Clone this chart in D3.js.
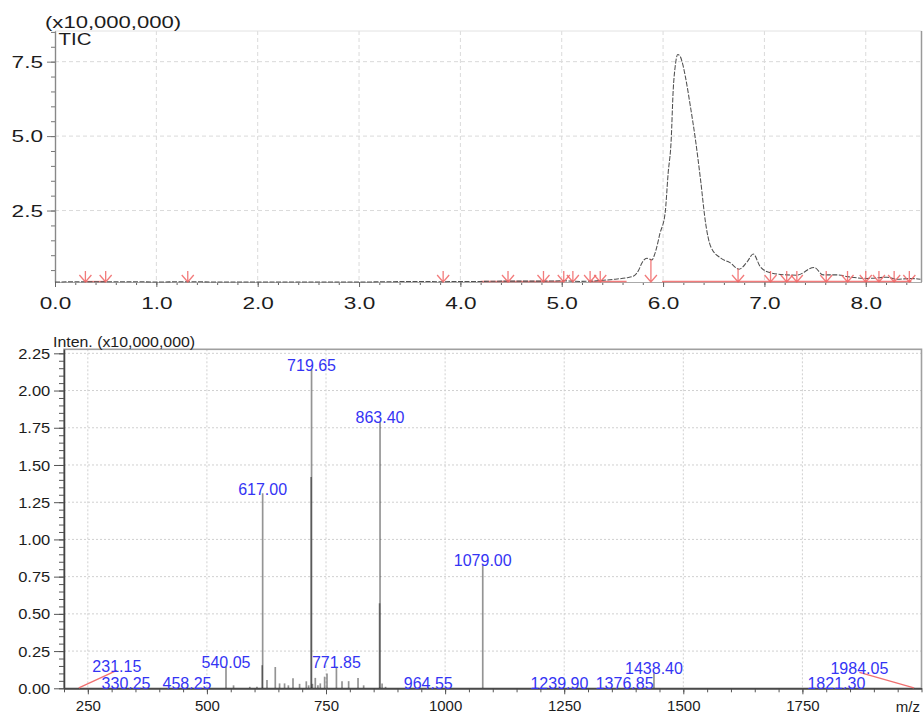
<!DOCTYPE html>
<html>
<head>
<meta charset="utf-8">
<script src="https://cdn.jsdelivr.net/npm/d3@7"></script>
<style>
  html, body { margin: 0; padding: 0; background: #fff; }
  svg { display: block; font-family: "Liberation Sans", Arial, sans-serif; }
</style>
</head>
<body>
<svg id="chart" width="924" height="715"></svg>
<script>
// ---------------- TIC chromatogram (intensity x10,000,000 vs. retention time, min) ----------------
const ticTime = [0.00, 0.30, 0.50, 0.80, 1.00, 1.30, 1.60, 2.00, 2.50, 3.00, 3.30, 3.60, 3.83, 4.00, 4.20,
  4.47, 4.82, 5.02, 5.18, 5.38, 5.51, 5.64, 5.71, 5.76, 5.79, 5.84, 5.89, 5.92, 5.97, 6.02, 6.05, 6.08,
  6.10, 6.12, 6.145, 6.17, 6.195, 6.22, 6.27, 6.32, 6.37, 6.42, 6.47, 6.57, 6.66, 6.75, 6.83, 6.89, 6.96,
  7.06, 7.22, 7.32, 7.49, 7.58, 7.72, 7.82, 8.01, 8.21, 8.31, 8.44, 8.54];
const ticIntensity = [0.10, 0.11, 0.11, 0.11, 0.10, 0.11, 0.10, 0.10, 0.10, 0.10, 0.11, 0.12, 0.11, 0.12, 0.12,
  0.13, 0.13, 0.14, 0.12, 0.15, 0.19, 0.24, 0.30, 0.50, 0.73, 0.90, 0.84, 1.06, 1.74, 2.41, 3.75, 4.87,
  6.55, 7.35, 7.74, 7.67, 7.40, 7.00, 5.99, 4.87, 3.53, 2.07, 1.29, 0.90, 0.75, 0.53, 0.78, 1.04, 0.61,
  0.41, 0.34, 0.33, 0.59, 0.34, 0.34, 0.28, 0.22, 0.26, 0.19, 0.22, 0.19];
// integration marks (start / end of detected peaks), min
const peakMarkers = [0.30, 0.50, 1.31, 3.83, 4.47, 4.82, 5.02, 5.11, 5.28, 5.38, 5.88, 6.74, 7.06,
  7.22, 7.32, 7.61, 7.82, 8.00, 8.13, 8.28, 8.43];
const baselineStart = [0.30, 4.20, 5.28, 5.99];
const baselineEnd   = [0.50, 5.02, 5.64, 8.45];
const ticXTicks = [0, 1, 2, 3, 4, 5, 6, 7, 8];
const ticYTicks = [2.5, 5.0, 7.5];

// ---------------- Mass spectrum (intensity x10,000,000 vs. m/z) ----------------
const labelMz = [231.15, 330.25, 458.25, 540.05, 617.00, 719.65, 771.85, 863.40, 964.55, 1079.00,
  1239.90, 1376.85, 1438.40, 1821.30, 1984.05];
const labelIntensity = [0.003, 0.005, 0.006, 0.145, 1.31, 2.14, 0.145, 1.79, 0.006, 0.83,
  0.004, 0.004, 0.105, 0.003, 0.003];
const peakMz = [555.9, 590.0, 605.0, 616.0, 626.1, 643.5, 652.5, 663.0, 671.0, 680.7, 694.5, 708.6,
  713.5, 718.65, 721.5, 727.5, 733.0, 738.0, 747.1, 752.1, 783.6, 797.5, 817.2, 829.0, 862.40, 867.7, 875.0];
const peakIntensity = [0.02, 0.01, 0.01, 0.155, 0.056, 0.143, 0.033, 0.033, 0.02, 0.067, 0.03, 0.047,
  0.02, 1.42, 0.03, 0.07, 0.02, 0.033, 0.078, 0.10, 0.048, 0.048, 0.07, 0.02, 0.571, 0.033, 0.01];
const msXTicks = [250, 500, 750, 1000, 1250, 1500, 1750];
const msYTicks = [0.00, 0.25, 0.50, 0.75, 1.00, 1.25, 1.50, 1.75, 2.00, 2.25];

// labels pulled away from the plot edges, joined to their peak by a leader line
const leaderOffset = { "231.15": [38, -17.5], "1984.05": [-54.5, -15.5] };

const svg = d3.select("#chart");
svg.append("rect").attr("width", 924).attr("height", 715).attr("fill", "#fff");

// ======================= TIC panel =======================
const tp = { left: 55, right: 921.5, top: 31, bottom: 282 };
const xT = d3.scaleLinear().domain([0, 8.55]).range([tp.left, tp.right]);
const yT = d3.scaleLinear().domain([0.1, 8.53]).range([tp.bottom, tp.top]);
const gT = svg.append("g");

// grid
gT.append("g").selectAll("line").data(ticXTicks.filter(d => d > 0)).join("line")
  .attr("x1", d => xT(d)).attr("x2", d => xT(d)).attr("y1", tp.top).attr("y2", tp.bottom)
  .attr("stroke", "#dadada").attr("stroke-dasharray", "4,3");
gT.append("g").selectAll("line").data(ticYTicks).join("line")
  .attr("x1", tp.left).attr("x2", tp.right).attr("y1", d => yT(d)).attr("y2", d => yT(d))
  .attr("stroke", "#dadada").attr("stroke-dasharray", "4,3");
gT.append("line").attr("x1", tp.left).attr("x2", tp.right).attr("y1", tp.top).attr("y2", tp.top)
  .attr("stroke", "#e2e2e2");
gT.append("line").attr("x1", tp.right).attr("x2", tp.right).attr("y1", tp.top).attr("y2", tp.bottom)
  .attr("stroke", "#999").attr("stroke-width", 1.5);

// axes
const ticMinorY = d3.range(0.5, 8.51, 0.5);
const ticMinorX = d3.range(0, 8.55, 0.2);
const axLeftT = gT.append("g").attr("transform", `translate(${tp.left},0)`);
axLeftT.append("g").call(d3.axisLeft(yT).tickValues(ticMinorY).tickSize(4).tickSizeOuter(0).tickFormat(""));
axLeftT.append("g").call(d3.axisLeft(yT).tickValues(ticYTicks).tickSize(8).tickSizeOuter(0).tickFormat(d3.format(".1f")));
axLeftT.selectAll("path.domain").attr("stroke", "#888").attr("stroke-width", 1.2);
axLeftT.selectAll(".tick line").attr("stroke", "#777");
axLeftT.selectAll("text").attr("x", -9).attr("dy", "0.34em")
  .attr("transform", "scale(1.33,1)").attr("font-size", 17).attr("fill", "#1c1c1c")
  .attr("font-family", "Liberation Sans, Arial, sans-serif");

const axBotT = gT.append("g").attr("transform", `translate(0,${tp.bottom})`);
axBotT.append("g").call(d3.axisBottom(xT).tickValues(ticMinorX).tickSize(3).tickSizeOuter(0).tickFormat(""));
axBotT.append("g").call(d3.axisBottom(xT).tickValues(ticXTicks).tickSize(5).tickSizeOuter(0).tickFormat(d3.format(".1f")));
axBotT.selectAll("path.domain").attr("stroke", "#aaa");
axBotT.selectAll(".tick line").attr("stroke", "#666");
axBotT.selectAll("text").attr("y", 15)
  .attr("transform", "scale(1.33,1)").attr("font-size", 17).attr("fill", "#1c1c1c")
  .attr("font-family", "Liberation Sans, Arial, sans-serif");

// integration baselines and peak marks
const red = "#f06464";
gT.append("g").selectAll("line").data(baselineStart).join("line")
  .attr("x1", d => xT(d)).attr("x2", (d, i) => xT(baselineEnd[i]))
  .attr("y1", tp.bottom - 0.5).attr("y2", tp.bottom - 0.5)
  .attr("stroke", red).attr("stroke-width", 1.3).attr("opacity", 0.85);

// TIC trace
const ticLine = d3.line().x((d, i) => xT(ticTime[i])).y(d => yT(d)).curve(d3.curveMonotoneX);
gT.append("path").attr("d", ticLine(ticIntensity))
  .attr("fill", "none").attr("stroke", "#505050").attr("stroke-width", 1.05)
  .attr("stroke-dasharray", "5,1.5");

function ticAt(t) {
  const i = Math.max(1, d3.bisectLeft(ticTime, t));
  const t0 = ticTime[i - 1], t1 = ticTime[i];
  const f = (t - t0) / (t1 - t0);
  return ticIntensity[i - 1] + f * (ticIntensity[i] - ticIntensity[i - 1]);
}
gT.append("g").selectAll("path").data(peakMarkers).join("path")
  .attr("d", d => {
    const x = xT(d), base = tp.bottom;
    const top = Math.min(yT(ticAt(d)), base - 11);
    return `M${x},${top}V${base}M${x - 6},${base - 7}L${x},${base}L${x + 6},${base - 7}`;
  })
  .attr("fill", "none").attr("stroke", red).attr("stroke-width", 1.3).attr("opacity", 0.85);

// captions
gT.append("text").text("(x10,000,000)")
  .attr("transform", "translate(45,28) scale(1.38,1)").attr("font-size", 16).attr("fill", "#1c1c1c");
gT.append("text").text("TIC")
  .attr("transform", "translate(58.5,44.5) scale(1.28,1)").attr("font-size", 16).attr("fill", "#1c1c1c");

// ======================= Mass spectrum panel =======================
const mp = { left: 64, right: 921.5, top: 349.3, bottom: 688.3 };
const xM = d3.scaleLinear().domain([200, 2000]).range([mp.left, mp.right]);
const yM = d3.scaleLinear().domain([0, 2.277]).range([mp.bottom, mp.top]);
const gM = svg.append("g");

// grid
gM.append("g").selectAll("line").data(msXTicks).join("line")
  .attr("x1", d => xM(d)).attr("x2", d => xM(d)).attr("y1", mp.top).attr("y2", mp.bottom)
  .attr("stroke", "#d0d0d0").attr("stroke-dasharray", "2,2");
gM.append("g").selectAll("line").data(msYTicks.filter(d => d > 0)).join("line")
  .attr("x1", mp.left).attr("x2", mp.right).attr("y1", d => yM(d)).attr("y2", d => yM(d))
  .attr("stroke", "#d0d0d0").attr("stroke-dasharray", "2,2");

// frame
gM.append("rect").attr("x", mp.left).attr("y", mp.top)
  .attr("width", mp.right - mp.left).attr("height", mp.bottom - mp.top)
  .attr("fill", "none").attr("stroke", "#a0a0a0").attr("stroke-width", 1.6);

// stems
const stems = peakMz.map((m, i) => ({ m, v: peakIntensity[i] }))
  .concat(labelMz.map((m, i) => ({ m, v: labelIntensity[i] })));
gM.append("g").selectAll("line").data(stems).join("line")
  .attr("x1", d => xM(d.m)).attr("x2", d => xM(d.m))
  .attr("y1", mp.bottom).attr("y2", d => yM(d.v))
  .attr("stroke", "#000").attr("stroke-opacity", 0.42).attr("stroke-width", 1.7);

// axes
const msMinorY = d3.range(0, 45.5, 1).map(k => k * 0.05);
const msMinorX = d3.range(200, 2001, 50);
const axLeftM = gM.append("g").attr("transform", `translate(${mp.left},0)`);
axLeftM.append("g").call(d3.axisLeft(yM).tickValues(msMinorY).tickSize(5).tickSizeOuter(0).tickFormat(""));
axLeftM.append("g").call(d3.axisLeft(yM).tickValues(msYTicks).tickSize(10).tickSizeOuter(0).tickFormat(d3.format(".2f")));
axLeftM.selectAll("path.domain").attr("stroke", "#444").attr("stroke-width", 1.3);
axLeftM.selectAll(".tick line").attr("stroke", "#555");
axLeftM.selectAll("text").attr("x", -12.5).attr("dy", "0.34em")
  .attr("transform", "scale(1.1,1)").attr("font-size", 15).attr("fill", "#1c1c1c")
  .attr("font-family", "Liberation Sans, Arial, sans-serif");

const axBotM = gM.append("g").attr("transform", `translate(0,${mp.bottom})`);
axBotM.append("g").call(d3.axisBottom(xM).tickValues(msMinorX).tickSize(4).tickSizeOuter(0).tickFormat(""));
axBotM.append("g").call(d3.axisBottom(xM).tickValues(msXTicks).tickSize(6).tickSizeOuter(0).tickFormat(d3.format("d")));
axBotM.selectAll("path.domain").attr("stroke", "#444").attr("stroke-width", 1.3);
axBotM.selectAll(".tick line").attr("stroke", "#555");
axBotM.selectAll("text").attr("y", 12.5).attr("font-size", 15).attr("fill", "#1c1c1c")
  .attr("font-family", "Liberation Sans, Arial, sans-serif");

// peak labels
const labels = labelMz.map((m, i) => {
  const key = m.toFixed(2);
  const off = leaderOffset[key] || [0, 0];
  return { m, v: labelIntensity[i], key, dx: off[0], dy: off[1] };
});
gM.append("g").selectAll("line").data(labels.filter(d => d.dx || d.dy)).join("line")
  .attr("x1", d => xM(d.m)).attr("y1", d => yM(d.v))
  .attr("x2", d => xM(d.m) + d.dx).attr("y2", d => yM(d.v) + d.dy)
  .attr("stroke", "#f07070").attr("stroke-width", 1.3);
gM.append("g").selectAll("text").data(labels).join("text")
  .attr("x", d => xM(d.m) + d.dx).attr("y", d => yM(d.v) + d.dy + 1.5)
  .attr("text-anchor", "middle").attr("font-size", 16).attr("fill", "#3434f4")
  .text(d => d.key);

// captions
gM.append("text").text("Inten. (x10,000,000)")
  .attr("transform", "translate(53,346.5) scale(1.06,1)").attr("font-size", 15).attr("fill", "#1c1c1c");
gM.append("text").text("m/z")
  .attr("x", 920).attr("y", 711.5).attr("text-anchor", "end").attr("font-size", 15).attr("fill", "#1c1c1c");
</script>
</body>
</html>
